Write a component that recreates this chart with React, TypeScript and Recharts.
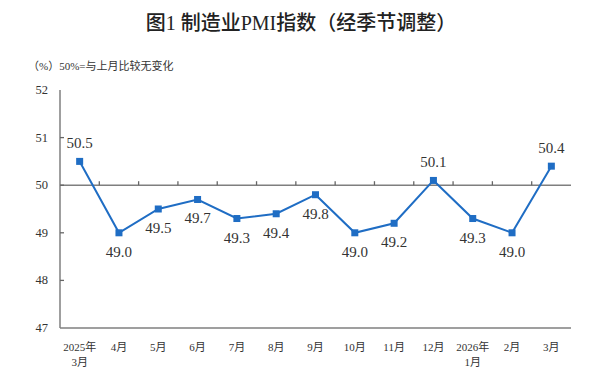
import React from "react";
import { LineChart, Line, XAxis, YAxis, ReferenceLine } from "recharts";

// 数据
const months = ["2025年\n3月", "4月", "5月", "6月", "7月", "8月", "9月", "10月", "11月", "12月", "2026年\n1月", "2月", "3月"];
const pmi = [50.5, 49.0, 49.5, 49.7, 49.3, 49.4, 49.8, 49.0, 49.2, 50.1, 49.3, 49.0, 50.4];
const yTicks = [47, 48, 49, 50, 51, 52];

const data = months.map((m, i) => ({ month: m, pmi: pmi[i] }));

const SERIF = "'Liberation Serif', 'Times New Roman', 'Noto Sans CJK SC', serif";
const AXIS = "#7f7f7f";
const BLUE = "#1f6dc4";

function XTick(props: any) {
  const { x, y, payload } = props;
  const lines = String(payload.value).split("\n");
  return (
    <text x={x} y={y} textAnchor="middle" fontSize={11} fontFamily={SERIF} fill="#333">
      {lines.map((l, i) => (
        <tspan key={i} x={x} dy={i === 0 ? 23 : 15}>{l}</tspan>
      ))}
    </text>
  );
}

function YTick(props: any) {
  const { x, y, payload } = props;
  const v = payload.value;
  const showTick = v !== yTicks[0] && v !== yTicks[yTicks.length - 1];
  return (
    <g>
      <text x={x} y={y} dy={4} textAnchor="end" fontSize={12.5} fontFamily={SERIF} fill="#333">{v}</text>
      {showTick && <line x1={x + 12} x2={x + 16} y1={y} y2={y} stroke="#666" strokeWidth={1.3} />}
    </g>
  );
}

// 50线，带类目分隔刻度
function MidLine(props: any) {
  const { x1, x2, y1 } = props;
  const n = months.length;
  const step = (x2 - x1) / n;
  return (
    <g>
      <line x1={x1} x2={x2} y1={y1} y2={y1} stroke={AXIS} strokeWidth={1.5} />
      {months.slice(1).map((_, k) => (
        <line key={k} x1={x1 + (k + 1) * step} x2={x1 + (k + 1) * step} y1={y1} y2={y1 - 4}
          stroke="#666" strokeWidth={1.3} />
      ))}
    </g>
  );
}

function ValueLabel(props: any) {
  const { x, y, value } = props;
  const above = value >= 50;
  return (
    <text x={x} y={y + (above ? -13 : 24)} textAnchor="middle" fontSize={15} fontFamily={SERIF} fill="#333">
      {Number(value).toFixed(1)}
    </text>
  );
}

function Square(props: any) {
  const { cx, cy } = props;
  return <rect x={cx - 3.5} y={cy - 3.5} width={7} height={7} fill={BLUE} />;
}

export default function App() {
  return (
    <div style={{ position: "absolute", left: 0, top: 0, width: 603, height: 375, background: "#fff" }}>
      <svg width={603} height={80} style={{ position: "absolute", left: 0, top: 0 }}>
        <text x={301} y={30} textAnchor="middle" fontSize={20} fontWeight={500}
          fontFamily="'Liberation Serif', 'Noto Sans CJK SC', serif" fill="#222">
          图1  制造业PMI指数（经季节调整）
        </text>
        <text x={28} y={70} fontSize={11} fontFamily={SERIF} fill="#333">（%）50%=与上月比较无变化</text>
      </svg>
      <div style={{ position: "absolute", left: 0, top: 0 }}>
        <LineChart width={603} height={375} data={data} margin={{ top: 90, right: 32, bottom: 7, left: 30 }}>
          <XAxis dataKey="month" scale="band" height={40} interval={0} tickSize={0} tickMargin={0} tickLine={false}
            axisLine={{ stroke: AXIS, strokeWidth: 1.5 }} tick={<XTick />} />
          <XAxis xAxisId="t" dataKey="month" scale="band" orientation="top" height={0} tick={false} tickLine={false}
            axisLine={{ stroke: AXIS, strokeWidth: 1.5 }} />
          <YAxis domain={[47, 52]} ticks={yTicks} width={30} tickSize={0} tickMargin={12} tickLine={false}
            axisLine={{ stroke: AXIS, strokeWidth: 1.5 }} tick={<YTick />} />
          <YAxis yAxisId="r" orientation="right" domain={[47, 52]} width={0} tick={false} tickLine={false}
            axisLine={{ stroke: AXIS, strokeWidth: 1.5 }} />
          <ReferenceLine y={50} shape={<MidLine />} />
          <Line dataKey="pmi" stroke={BLUE} strokeWidth={2} dot={<Square />} activeDot={false}
            label={<ValueLabel />} isAnimationActive={false} />
        </LineChart>
      </div>
    </div>
  );
}
